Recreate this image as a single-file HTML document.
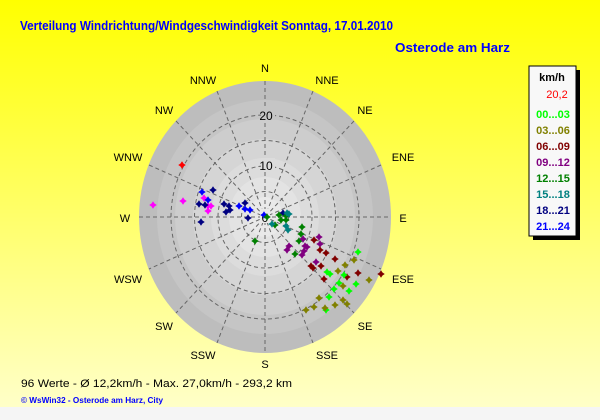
<!DOCTYPE html>
<html><head><meta charset="utf-8"><style>html,body{margin:0;padding:0}svg{display:block}</style></head><body>
<svg width="600" height="420" xmlns="http://www.w3.org/2000/svg" font-family="Liberation Sans, Arial, sans-serif">
<defs>
<linearGradient id="bg" x1="0" y1="0" x2="0" y2="1">
<stop offset="0" stop-color="#ffff00"/><stop offset="1" stop-color="#ffffc8"/></linearGradient>
<symbol id="d" viewBox="-2.4 -2.4 4.8 4.8" overflow="visible"><polygon points="0,-3 1.2,-1.2 3,0 1.2,1.2 0,3 -1.2,1.2 -3,0 -1.2,-1.2"/></symbol>
</defs>
<rect width="600" height="407" fill="url(#bg)"/>
<rect y="407" width="600" height="13" fill="#f5f5f5"/>
<text x="20" y="30" font-size="13" font-weight="bold" fill="#0000ff" textLength="373" lengthAdjust="spacingAndGlyphs">Verteilung Windrichtung/Windgeschwindigkeit  Sonntag, 17.01.2010</text>
<text x="395" y="52" font-size="13" font-weight="bold" fill="#0000ff" textLength="115" lengthAdjust="spacingAndGlyphs">Osterode am Harz</text>
<g transform="translate(265,217)">
<ellipse rx="126" ry="136" fill="#bdbdbd"/>
<ellipse rx="108" ry="117" fill="#c5c5c5"/>
<ellipse rx="90" ry="98" fill="#cdcdcd"/>
<ellipse rx="72" ry="78" fill="#d5d5d5"/>
<ellipse rx="54" ry="59" fill="#dcdcdc"/>
<ellipse rx="36" ry="40" fill="#e3e3e3"/>
<ellipse rx="18" ry="20" fill="#e9e9e9"/>
<g fill="none" stroke="#666" stroke-dasharray="4,3" stroke-width="1">
<ellipse rx="23.5" ry="25.5"/><ellipse rx="47" ry="51"/><ellipse rx="70.5" ry="76.5"/><ellipse rx="94" ry="102"/>
<path d="M0,-136V136M-126,0H126M-89,-96L89,96M89,-96L-89,96M-48,-126L48,126M48,-126L-48,126M-116,-52L116,52M116,-52L-116,52"/>
</g>
<rect x="-5" y="-8" width="10" height="14" fill="#e9e9e9"/>
<text x="0" y="5" font-size="12" text-anchor="middle">0</text>
<rect x="-4" y="-59" width="14" height="12" fill="#dcdcdc"/>
<text x="1" y="-47" font-size="12" text-anchor="middle">10</text>
<rect x="-4" y="-109" width="14" height="12" fill="#c5c5c5"/>
<text x="1" y="-97" font-size="12" text-anchor="middle">20</text>
</g>
<g font-size="11" text-anchor="middle" fill="#000">
<text x="265" y="72">N</text><text x="327" y="84">NNE</text><text x="365" y="114">NE</text><text x="403" y="161">ENE</text>
<text x="403" y="222">E</text><text x="403" y="283">ESE</text><text x="365" y="330">SE</text><text x="327" y="359">SSE</text>
<text x="265" y="368">S</text><text x="203" y="359">SSW</text><text x="164" y="330">SW</text><text x="128" y="283">WSW</text>
<text x="125" y="222">W</text><text x="128" y="161">WNW</text><text x="164" y="114">NW</text><text x="203" y="84">NNW</text>
</g>
<g>
<g fill="#ff0000"><use href="#d" x="179" y="162" width="6" height="6"/></g>
<g fill="#ff00ff">
<use href="#d" x="150" y="202" width="6" height="6"/><use href="#d" x="180" y="198" width="6" height="6"/><use href="#d" x="201" y="195" width="6" height="6"/><use href="#d" x="205" y="203" width="6" height="6"/><use href="#d" x="208" y="203" width="6" height="6"/><use href="#d" x="205" y="208" width="6" height="6"/></g>
<g fill="#0000ff">
<use href="#d" x="199" y="189" width="6" height="6"/><use href="#d" x="205" y="197" width="6" height="6"/><use href="#d" x="236" y="203" width="6" height="6"/><use href="#d" x="242" y="206" width="6" height="6"/><use href="#d" x="247" y="207" width="6" height="6"/><use href="#d" x="261" y="212" width="6" height="6"/></g>
<g fill="#000080">
<use href="#d" x="210" y="187" width="6" height="6"/><use href="#d" x="196" y="201" width="6" height="6"/><use href="#d" x="202" y="202" width="6" height="6"/><use href="#d" x="221" y="201" width="6" height="6"/><use href="#d" x="226" y="203" width="6" height="6"/><use href="#d" x="227" y="207" width="6" height="6"/><use href="#d" x="223" y="209" width="6" height="6"/><use href="#d" x="242" y="200" width="6" height="6"/><use href="#d" x="245" y="215" width="6" height="6"/><use href="#d" x="198" y="219" width="6" height="6"/><use href="#d" x="280" y="210" width="6" height="6"/></g>
<g fill="#008000">
<use href="#d" x="264" y="214" width="6" height="6"/><use href="#d" x="276" y="212" width="6" height="6"/><use href="#d" x="283" y="213" width="6" height="6"/><use href="#d" x="278" y="217" width="6" height="6"/><use href="#d" x="283" y="217" width="6" height="6"/><use href="#d" x="272" y="222" width="6" height="6"/><use href="#d" x="299" y="224" width="6" height="6"/><use href="#d" x="298" y="231" width="6" height="6"/><use href="#d" x="296" y="238" width="6" height="6"/><use href="#d" x="292" y="251" width="6" height="6"/><use href="#d" x="252" y="238" width="6" height="6"/></g>
<g fill="#008080">
<use href="#d" x="284" y="210" width="6" height="6"/><use href="#d" x="286" y="211" width="6" height="6"/><use href="#d" x="269" y="221" width="6" height="6"/><use href="#d" x="283" y="223" width="6" height="6"/><use href="#d" x="285" y="227" width="6" height="6"/><use href="#d" x="300" y="236" width="6" height="6"/></g>
<g fill="#800080">
<use href="#d" x="316" y="234" width="6" height="6"/><use href="#d" x="317" y="241" width="6" height="6"/><use href="#d" x="300" y="236" width="6" height="6"/><use href="#d" x="302" y="243" width="6" height="6"/><use href="#d" x="304" y="244" width="6" height="6"/><use href="#d" x="301" y="248" width="6" height="6"/><use href="#d" x="286" y="243" width="6" height="6"/><use href="#d" x="284" y="247" width="6" height="6"/><use href="#d" x="299" y="252" width="6" height="6"/><use href="#d" x="313" y="259" width="6" height="6"/></g>
<g fill="#800000">
<use href="#d" x="311" y="237" width="6" height="6"/><use href="#d" x="317" y="247" width="6" height="6"/><use href="#d" x="323" y="250" width="6" height="6"/><use href="#d" x="332" y="256" width="6" height="6"/><use href="#d" x="308" y="263" width="6" height="6"/><use href="#d" x="310" y="265" width="6" height="6"/><use href="#d" x="318" y="263" width="6" height="6"/><use href="#d" x="355" y="270" width="6" height="6"/><use href="#d" x="344" y="274" width="6" height="6"/><use href="#d" x="321" y="276" width="6" height="6"/><use href="#d" x="378" y="271" width="6" height="6"/></g>
<g fill="#00ff00">
<use href="#d" x="355" y="249" width="6" height="6"/><use href="#d" x="324" y="269" width="6" height="6"/><use href="#d" x="327" y="271" width="6" height="6"/><use href="#d" x="341" y="272" width="6" height="6"/><use href="#d" x="353" y="281" width="6" height="6"/><use href="#d" x="336" y="280" width="6" height="6"/><use href="#d" x="331" y="286" width="6" height="6"/><use href="#d" x="346" y="288" width="6" height="6"/><use href="#d" x="326" y="294" width="6" height="6"/><use href="#d" x="323" y="307" width="6" height="6"/></g>
<g fill="#808000">
<use href="#d" x="351" y="257" width="6" height="6"/><use href="#d" x="342" y="262" width="6" height="6"/><use href="#d" x="335" y="268" width="6" height="6"/><use href="#d" x="366" y="277" width="6" height="6"/><use href="#d" x="340" y="283" width="6" height="6"/><use href="#d" x="340" y="297" width="6" height="6"/><use href="#d" x="344" y="301" width="6" height="6"/><use href="#d" x="316" y="295" width="6" height="6"/><use href="#d" x="332" y="302" width="6" height="6"/><use href="#d" x="322" y="305" width="6" height="6"/><use href="#d" x="311" y="304" width="6" height="6"/><use href="#d" x="303" y="307" width="6" height="6"/></g>
</g>
<rect x="533" y="70" width="47" height="170" fill="#000"/>
<rect x="529" y="66" width="47" height="170" fill="#f8f8f8" stroke="#000" stroke-width="1"/>
<g font-size="11" font-weight="bold" text-anchor="middle">
<text x="552" y="81" fill="#000">km/h</text>
<text x="557" y="98" fill="#ff0000" font-weight="normal">20,2</text>
<text x="553" y="118" fill="#00ff00">00...03</text>
<text x="553" y="134" fill="#808000">03...06</text>
<text x="553" y="150" fill="#800000">06...09</text>
<text x="553" y="166" fill="#800080">09...12</text>
<text x="553" y="182" fill="#008000">12...15</text>
<text x="553" y="198" fill="#008080">15...18</text>
<text x="553" y="214" fill="#000080">18...21</text>
<text x="553" y="230" fill="#0000ff">21...24</text>
</g>
<text x="21" y="387" font-size="11" fill="#000" textLength="271" lengthAdjust="spacingAndGlyphs">96 Werte   -   Ø 12,2km/h  -  Max. 27,0km/h   -   293,2 km</text>
<text x="21" y="403" font-size="8" font-weight="bold" fill="#0000ff" textLength="142" lengthAdjust="spacingAndGlyphs">© WsWin32  -  Osterode am Harz, City</text>
</svg>
</body></html>
